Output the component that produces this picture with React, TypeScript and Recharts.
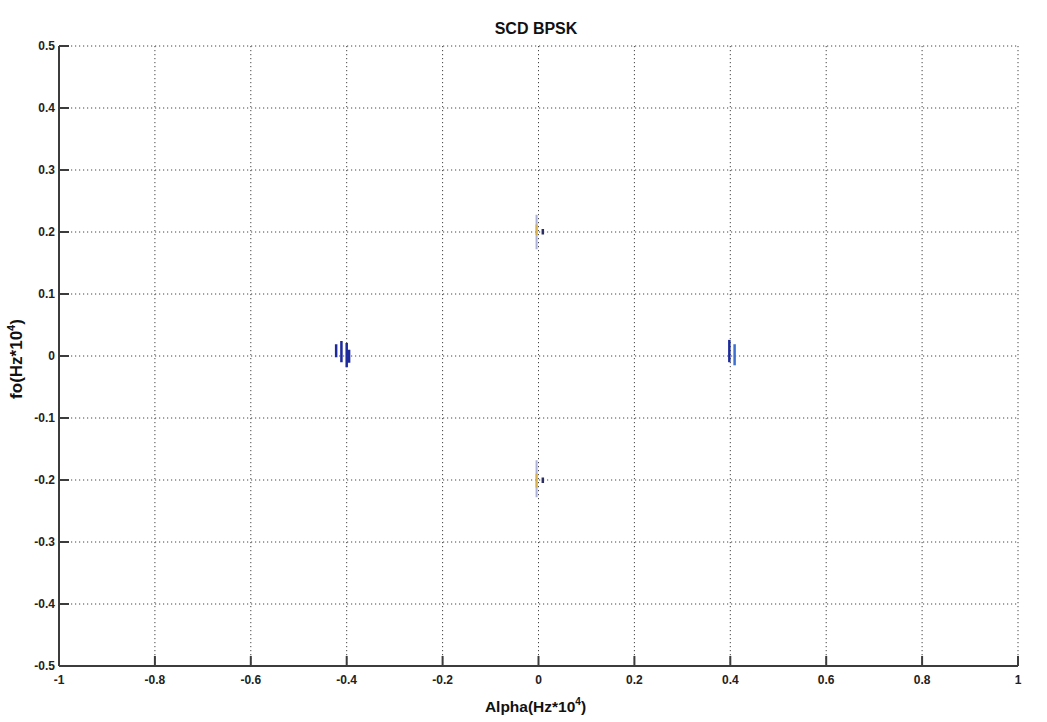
import React from 'react';
import { ComposedChart, Line, XAxis, YAxis, CartesianGrid, Label } from 'recharts';

const chartTitle = 'SCD BPSK';
const xTicks = [-1, -0.8, -0.6, -0.4, -0.2, 0, 0.2, 0.4, 0.6, 0.8, 1];
const yTicks = [-0.5, -0.4, -0.3, -0.2, -0.1, 0, 0.1, 0.2, 0.3, 0.4, 0.5];

// vertical streaks near alpha = -0.4
const leftClusterX = [-0.422, -0.411, -0.4, -0.395];
const leftClusterLow = [-0.002, -0.01, -0.018, -0.011];
const leftClusterHigh = [0.019, 0.024, 0.021, 0.01];

// vertical streaks near alpha = +0.4
const rightClusterX = [0.398];
const rightClusterLow = [-0.01];
const rightClusterHigh = [0.026];
const rightLightX = [0.409];
const rightLightLow = [-0.015];
const rightLightHigh = [0.019];

// faint streaks at alpha = 0, fo = +/-0.2
const centerX = [-0.004, -0.004];
const centerLow = [0.172, -0.228];
const centerHigh = [0.228, -0.168];
const coreX = [-0.004, -0.004];
const coreLow = [0.195, -0.212];
const coreHigh = [0.212, -0.19];
const dotX = [0.009, 0.009];
const dotLow = [0.196, -0.205];
const dotHigh = [0.205, -0.196];

type Pt = { x: number; y: number | null };
const segments = (xs: number[], lows: number[], highs: number[]): Pt[] =>
  xs.flatMap((x, i) => [
    { x, y: lows[i] },
    { x, y: highs[i] },
    { x, y: null },
  ]);

const leftData = segments(leftClusterX, leftClusterLow, leftClusterHigh);
const rightData = segments(rightClusterX, rightClusterLow, rightClusterHigh);
const rightLightData = segments(rightLightX, rightLightLow, rightLightHigh);
const centerData = segments(centerX, centerLow, centerHigh);
const coreData = segments(coreX, coreLow, coreHigh);
const dotData = segments(dotX, dotLow, dotHigh);

const FONT = '"Liberation Sans", Arial, sans-serif';
const AXIS_COLOR = '#3c3c3c';

const tickStyle = { fontSize: 12, fontFamily: FONT, fontWeight: 700, fill: '#222' };

const XTitle = (props: any) => {
  const vb = props.viewBox || {};
  const cx = vb.x + vb.width / 2 - 3;
  const y = vb.y + 46;
  return (
    <text x={cx} y={y} textAnchor="middle" fontFamily={FONT} fontWeight={700} fontSize={15.5} fill="#111">
      Alpha(Hz*10
      <tspan dy={-7} fontSize={10}>4</tspan>
      <tspan dy={7}>)</tspan>
    </text>
  );
};

const YTitle = (props: any) => {
  const vb = props.viewBox || {};
  const cx = vb.x + 3;
  const cy = vb.y + vb.height / 2 + 3;
  return (
    <text
      x={cx}
      y={cy}
      textAnchor="middle"
      transform={`rotate(-90 ${cx} ${cy})`}
      fontFamily={FONT}
      fontWeight={700}
      fontSize={17}
      fill="#111"
    >
      fo(Hz*10
      <tspan dy={-7} fontSize={11}>4</tspan>
      <tspan dy={7}>)</tspan>
    </text>
  );
};

export default function App() {
  return (
    <div style={{ position: 'absolute', left: 0, top: 0, width: 1047, height: 722, background: '#fff' }}>
      <div
        style={{
          position: 'absolute',
          left: 0,
          top: 19,
          width: 1072,
          textAlign: 'center',
          fontFamily: FONT,
          fontWeight: 700,
          fontSize: 16,
          color: '#111',
          lineHeight: '20px',
        }}
      >
        {chartTitle}
      </div>
      <ComposedChart
        width={1047}
        height={722}
        margin={{ top: 46, right: 29, bottom: 26, left: 19 }}
      >
        <CartesianGrid
          stroke="#444"
          strokeDasharray="1.2 2.8"
          strokeWidth={1}
          horizontalValues={yTicks}
          verticalValues={xTicks}
        />
        <XAxis
          type="number"
          dataKey="x"
          domain={[-1, 1]}
          ticks={xTicks}
          allowDataOverflow
          height={30}
          tickSize={-10}
          tickMargin={19}
          tick={tickStyle}
          axisLine={{ stroke: AXIS_COLOR, strokeWidth: 2 }}
          tickLine={{ stroke: AXIS_COLOR, strokeWidth: 2 }}
        >
          <Label content={XTitle} />
        </XAxis>
        <XAxis
          xAxisId="top"
          orientation="top"
          type="number"
          dataKey="x"
          domain={[-1, 1]}
          ticks={xTicks}
          allowDataOverflow
          height={0}
          tickSize={-10}
          tickFormatter={() => ''}
          axisLine={{ stroke: AXIS_COLOR, strokeWidth: 2 }}
          tickLine={{ stroke: AXIS_COLOR, strokeWidth: 2 }}
        />
        <YAxis
          type="number"
          dataKey="y"
          domain={[-0.5, 0.5]}
          ticks={yTicks}
          allowDataOverflow
          width={40}
          tickSize={-10}
          tickMargin={14}
          tick={tickStyle}
          axisLine={{ stroke: AXIS_COLOR, strokeWidth: 2 }}
          tickLine={{ stroke: AXIS_COLOR, strokeWidth: 2 }}
        >
          <Label content={YTitle} />
        </YAxis>
        <YAxis
          yAxisId="right"
          orientation="right"
          type="number"
          dataKey="y"
          domain={[-0.5, 0.5]}
          ticks={yTicks}
          allowDataOverflow
          width={0}
          tickSize={-10}
          tickFormatter={() => ''}
          axisLine={{ stroke: AXIS_COLOR, strokeWidth: 2 }}
          tickLine={{ stroke: AXIS_COLOR, strokeWidth: 2 }}
        />
        <Line data={centerData} dataKey="y" type="linear" stroke="#aab0d8" strokeWidth={2} dot={false} isAnimationActive={false} strokeLinecap="butt" />
        <Line data={coreData} dataKey="y" type="linear" stroke="#d8b050" strokeWidth={2} dot={false} isAnimationActive={false} strokeLinecap="butt" />
        <Line data={dotData} dataKey="y" type="linear" stroke="#2a2e60" strokeWidth={2.5} dot={false} isAnimationActive={false} strokeLinecap="butt" />
        <Line data={leftData} dataKey="y" type="linear" stroke="#1c2a9c" strokeWidth={2.5} dot={false} isAnimationActive={false} strokeLinecap="butt" />
        <Line data={rightData} dataKey="y" type="linear" stroke="#1c2a9c" strokeWidth={2.5} dot={false} isAnimationActive={false} strokeLinecap="butt" />
        <Line data={rightLightData} dataKey="y" type="linear" stroke="#3d6fd0" strokeWidth={2.5} dot={false} isAnimationActive={false} strokeLinecap="butt" />
      </ComposedChart>
    </div>
  );
}
